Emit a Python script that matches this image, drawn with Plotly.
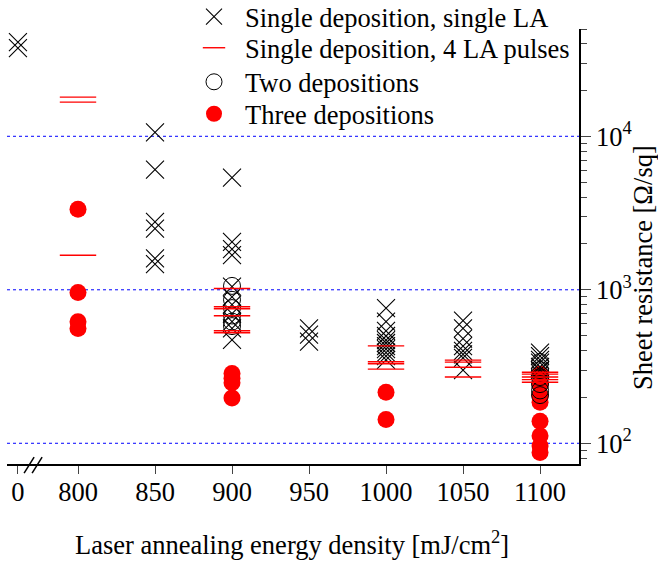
import plotly.graph_objects as go

# ---- data ----
single_la_x = [0, 0,
               850, 850, 850, 850, 850, 850,
               900, 900, 900, 900, 900, 900, 900, 900, 900, 900, 900,
               950, 950, 950,
               1000, 1000, 1000, 1000, 1000, 1000, 1000, 1000, 1000, 1000, 1000,
               1050, 1050, 1050, 1050, 1050, 1050, 1050, 1050,
               1100, 1100, 1100, 1100, 1100, 1100]
single_la_y = [41000, 37500,
               10600, 6070, 2770, 2500, 1600, 1470,
               5380, 2050, 1840, 1680, 1050, 900, 800, 700, 620, 560, 472,
               560, 510, 460,
               760, 620, 540, 500, 470, 450, 430, 410, 390, 370, 350,
               630, 560, 480, 430, 400, 380, 360, 300,
               390, 370, 350, 335, 315, 300]

four_la_x = [800, 800, 800,
             900, 900, 900, 900, 900, 900,
             1000, 1000, 1000, 1000,
             1050, 1050, 1050, 1050,
             1100, 1100, 1100, 1100, 1100]
four_la_y = [18000, 16700, 1680,
             1020, 776, 753, 678, 541, 525,
             431, 340, 330, 304,
             348, 338, 313, 270,
             290, 282, 270, 260, 250]

two_dep_x = [900, 900, 900, 900, 900, 900,
             1100, 1100, 1100, 1100, 1100, 1100]
two_dep_y = [1060, 860, 760, 680, 620, 580,
             338, 300, 270, 243, 221, 206]

three_dep_x = [800, 800, 800, 800,
               900, 900, 900, 900,
               1000, 1000,
               1100, 1100, 1100, 1100, 1100, 1100, 1100, 1100]
three_dep_y = [3350, 960, 620, 560,
               285, 265, 248, 197,
               215, 143,
               282, 240, 205, 185, 139, 112, 96, 87]

tick_values = [0, 800, 850, 900, 950, 1000, 1050, 1100]
tick_labels = ["0", "800", "850", "900", "950", "1000", "1050", "1100"]
y_tick_values = [100, 1000, 10000]
y_tick_labels = ["10<sup>2</sup>", "10<sup>3</sup>", "10<sup>4</sup>"]

x_title = "Laser annealing energy density [mJ/cm<sup>2</sup>]"
y_title = "Sheet resistance [Ω/sq]"

# broken axis: energy 0 is drawn just left of 800
ZERO_POS = 761.0


def pos(v):
    return ZERO_POS if v == 0 else v


FONT = "'Liberation Serif', 'Times New Roman', Times, serif"
FS = 26.5

fig = go.Figure()

# horizontal reference lines at the decades
for yv in y_tick_values:
    fig.add_shape(type="line", xref="paper", yref="y", x0=0, x1=1, y0=yv, y1=yv,
                  line=dict(color="#0000ff", width=1, dash="dot"), layer="below")

fig.add_trace(go.Scatter(
    x=[pos(v) for v in three_dep_x], y=three_dep_y, mode="markers",
    name="Three depositions", legend="legend4",
    marker=dict(symbol="circle", size=17, color="#ff0000", line=dict(width=0))))
fig.add_trace(go.Scatter(
    x=[pos(v) for v in two_dep_x], y=two_dep_y, mode="markers",
    name="Two depositions", legend="legend3",
    marker=dict(symbol="circle-open", size=17, color="black", line=dict(width=1))))
fig.add_trace(go.Scatter(
    x=[pos(v) for v in single_la_x], y=single_la_y, mode="markers",
    name="Single deposition, single LA", legend="legend",
    marker=dict(symbol="x-thin-open", size=18, color="black", line=dict(width=1.1))))
fig.add_trace(go.Scatter(
    x=[pos(v) for v in four_la_x], y=four_la_y, mode="markers",
    name="Single deposition, 4 LA pulses", legend="legend2",
    marker=dict(symbol="line-ew-open", size=26, color="#ff0000", line=dict(width=1.4, color="#ff0000"))))

# axis break marks
for x0, x1 in [(765.0, 771.5), (770.2, 776.7)]:
    fig.add_shape(type="line", xref="x", yref="paper", x0=x0, x1=x1, y0=-0.021, y1=0.016,
                  line=dict(color="black", width=1.5))

# axis titles
fig.add_annotation(text=x_title, xref="paper", yref="paper", x=0.498, y=-0.1816,
                   xanchor="center", yanchor="middle", showarrow=False,
                   font=dict(family=FONT, size=FS, color="black"))
fig.add_annotation(text=y_title, xref="paper", yref="paper", x=1.112, y=0.4506,
                   xanchor="center", yanchor="middle", showarrow=False, textangle=-90,
                   font=dict(family=FONT, size=FS, color="black"))


def leg(yc):
    return dict(x=0.3077, y=yc, xanchor="left", yanchor="middle",
                bgcolor="rgba(0,0,0,0)", borderwidth=0,
                font=dict(family=FONT, size=FS, color="black"),
                itemsizing="trace", itemwidth=52)


fig.update_layout(
    width=658, height=561,
    margin=dict(l=7, r=79, t=29, b=97, autoexpand=False),
    paper_bgcolor="white", plot_bgcolor="white",
    font=dict(family=FONT, size=FS, color="black"),
    showlegend=True,
    legend=leg(1.0276), legend2=leg(0.9563), legend3=leg(0.878), legend4=leg(0.8046),
    xaxis=dict(
        range=[753.9, 1125.3], tickmode="array", tickvals=[pos(v) for v in tick_values],
        ticktext=tick_labels, ticks="outside", ticklen=8, tickwidth=1.2,
        ticklabelstandoff=-5,
        showline=True, linecolor="black", linewidth=1.5, showgrid=False, zeroline=False,
        automargin=False,
        tickfont=dict(family=FONT, size=FS)),
    yaxis=dict(
        type="log", side="right", range=[1.865, 4.699],
        tickmode="array", tickvals=y_tick_values, ticktext=y_tick_labels,
        ticks="outside", ticklen=10, tickwidth=1.2,
        minor=dict(ticks="outside", ticklen=6, tickwidth=1.2, dtick="D1", showgrid=False),
        showline=True, linecolor="black", linewidth=1.5,
        showgrid=False, zeroline=False,
        automargin=False,
        tickfont=dict(family=FONT, size=FS)),
)

fig.write_html("out.html", config={"displayModeBar": False},
               post_script="document.body.style.margin='0';document.body.style.overflow='hidden';")
